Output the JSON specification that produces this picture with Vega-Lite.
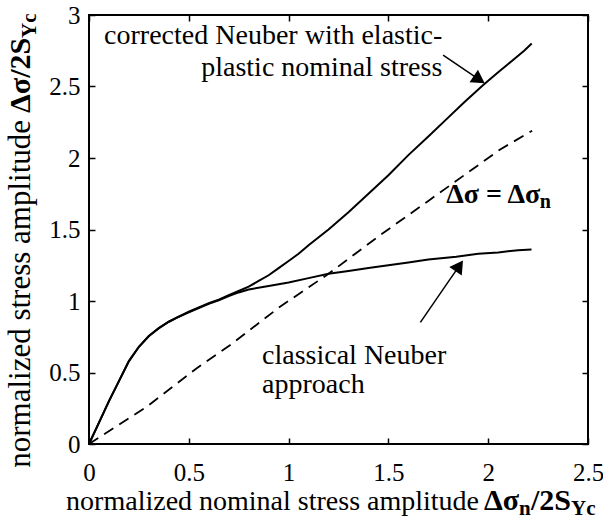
{
  "$schema": "https://vega.github.io/schema/vega-lite/v6.json",
  "width": 499,
  "height": 429,
  "autosize": "none",
  "padding": {"left": 89, "top": 15, "right": 15, "bottom": 76},
  "background": "white",
  "config": {
    "view": {"stroke": "black", "strokeWidth": 2},
    "axis": {
      "grid": false,
      "domain": false,
      "tickColor": "black",
      "tickWidth": 1.5,
      "tickSize": -6,
      "labelColor": "black",
      "labelFont": "Liberation Serif",
      "labelFontSize": 25,
      "labelFlush": false,
      "labelOverlap": false,
      "title": null
    },
    "text": {"font": "Liberation Serif", "color": "black"}
  },
  "datasets": {
    "curves": [
      {"series": "corrected", "x": 0, "y": 0},
      {"series": "corrected", "x": 0.05, "y": 0.15},
      {"series": "corrected", "x": 0.1, "y": 0.3},
      {"series": "corrected", "x": 0.15, "y": 0.44},
      {"series": "corrected", "x": 0.2, "y": 0.58},
      {"series": "corrected", "x": 0.25, "y": 0.68},
      {"series": "corrected", "x": 0.3, "y": 0.755},
      {"series": "corrected", "x": 0.35, "y": 0.81},
      {"series": "corrected", "x": 0.4, "y": 0.855},
      {"series": "corrected", "x": 0.45, "y": 0.89},
      {"series": "corrected", "x": 0.5, "y": 0.925},
      {"series": "corrected", "x": 0.55, "y": 0.955},
      {"series": "corrected", "x": 0.6, "y": 0.985},
      {"series": "corrected", "x": 0.65, "y": 1.01},
      {"series": "corrected", "x": 0.7, "y": 1.04},
      {"series": "corrected", "x": 0.75, "y": 1.07},
      {"series": "corrected", "x": 0.8, "y": 1.1},
      {"series": "corrected", "x": 0.85, "y": 1.14},
      {"series": "corrected", "x": 0.9, "y": 1.18},
      {"series": "corrected", "x": 0.95, "y": 1.23},
      {"series": "corrected", "x": 1.0, "y": 1.28},
      {"series": "corrected", "x": 1.05, "y": 1.33},
      {"series": "corrected", "x": 1.1, "y": 1.39},
      {"series": "corrected", "x": 1.2, "y": 1.5},
      {"series": "corrected", "x": 1.3, "y": 1.62},
      {"series": "corrected", "x": 1.4, "y": 1.75},
      {"series": "corrected", "x": 1.5, "y": 1.88},
      {"series": "corrected", "x": 1.6, "y": 2.02},
      {"series": "corrected", "x": 1.7, "y": 2.15},
      {"series": "corrected", "x": 1.79, "y": 2.27},
      {"series": "corrected", "x": 1.88, "y": 2.39},
      {"series": "corrected", "x": 1.975, "y": 2.51},
      {"series": "corrected", "x": 2.05, "y": 2.6},
      {"series": "corrected", "x": 2.12, "y": 2.68},
      {"series": "corrected", "x": 2.18, "y": 2.75},
      {"series": "corrected", "x": 2.218, "y": 2.8},
      {"series": "classical", "x": 0, "y": 0},
      {"series": "classical", "x": 0.05, "y": 0.15},
      {"series": "classical", "x": 0.1, "y": 0.3},
      {"series": "classical", "x": 0.15, "y": 0.44},
      {"series": "classical", "x": 0.2, "y": 0.58},
      {"series": "classical", "x": 0.25, "y": 0.68},
      {"series": "classical", "x": 0.3, "y": 0.755},
      {"series": "classical", "x": 0.35, "y": 0.81},
      {"series": "classical", "x": 0.4, "y": 0.855},
      {"series": "classical", "x": 0.45, "y": 0.89},
      {"series": "classical", "x": 0.5, "y": 0.92},
      {"series": "classical", "x": 0.55, "y": 0.95},
      {"series": "classical", "x": 0.6, "y": 0.98},
      {"series": "classical", "x": 0.65, "y": 1.005},
      {"series": "classical", "x": 0.7, "y": 1.035},
      {"series": "classical", "x": 0.75, "y": 1.06},
      {"series": "classical", "x": 0.8, "y": 1.08},
      {"series": "classical", "x": 0.9, "y": 1.105},
      {"series": "classical", "x": 1.0, "y": 1.13},
      {"series": "classical", "x": 1.1, "y": 1.16},
      {"series": "classical", "x": 1.2, "y": 1.19},
      {"series": "classical", "x": 1.3, "y": 1.21},
      {"series": "classical", "x": 1.4, "y": 1.23},
      {"series": "classical", "x": 1.5, "y": 1.25},
      {"series": "classical", "x": 1.6, "y": 1.27},
      {"series": "classical", "x": 1.7, "y": 1.29},
      {"series": "classical", "x": 1.84, "y": 1.31},
      {"series": "classical", "x": 1.95, "y": 1.33},
      {"series": "classical", "x": 2.05, "y": 1.34},
      {"series": "classical", "x": 2.15, "y": 1.355},
      {"series": "classical", "x": 2.217, "y": 1.36}
    ],
    "dashed": [
      {"x": 0, "y": 0},
      {"x": 0.122, "y": 0.11},
      {"x": 0.289, "y": 0.26},
      {"x": 0.54, "y": 0.53},
      {"x": 0.706, "y": 0.69},
      {"x": 0.957, "y": 0.96},
      {"x": 1.2, "y": 1.19},
      {"x": 1.458, "y": 1.46},
      {"x": 1.7, "y": 1.7},
      {"x": 2.06, "y": 2.06},
      {"x": 2.22, "y": 2.19}
    ]
  },
  "layer": [
    {
      "data": {"name": "curves"},
      "mark": {"type": "line", "color": "black", "strokeWidth": 2},
      "encoding": {
        "x": {"field": "x", "type": "quantitative", "scale": {"domain": [0, 2.5], "nice": false},
              "axis": {"orient": "bottom", "values": [0, 0.5, 1, 1.5, 2, 2.5], "format": "~g", "labelPadding": 22}},
        "y": {"field": "y", "type": "quantitative", "scale": {"domain": [0, 3], "nice": false},
              "axis": {"orient": "left", "values": [0, 0.5, 1, 1.5, 2, 2.5, 3], "format": "~g", "labelPadding": 15}},
        "detail": {"field": "series"}
      }
    },
    {
      "data": {"name": "dashed"},
      "mark": {"type": "line", "color": "black", "strokeWidth": 1.8, "strokeDash": [11, 7]},
      "encoding": {
        "x": {"field": "x", "type": "quantitative", "scale": {"domain": [0, 2.5], "nice": false},
              "axis": {"orient": "top", "values": [0, 0.5, 1, 1.5, 2, 2.5], "labels": false}},
        "y": {"field": "y", "type": "quantitative", "scale": {"domain": [0, 3], "nice": false},
              "axis": {"orient": "right", "values": [0, 0.5, 1, 1.5, 2, 2.5, 3], "labels": false}}
      }
    },
    {
      "data": {"values": [
        {"x": 1.774, "y": 2.72, "x2": 1.955, "y2": 2.548},
        {"x": 1.66, "y": 0.85, "x2": 1.855, "y2": 1.246}
      ]},
      "mark": {"type": "rule", "color": "black", "strokeWidth": 1.5},
      "encoding": {
        "x": {"field": "x", "type": "quantitative", "axis": null},
        "y": {"field": "y", "type": "quantitative", "axis": null},
        "x2": {"field": "x2"},
        "y2": {"field": "y2"}
      }
    },
    {
      "data": {"values": [{"x": 1.955, "y": 2.548}]},
      "mark": {"type": "point", "shape": "triangle-up", "filled": true, "color": "black", "opacity": 1, "size": 230, "angle": 123.7},
      "encoding": {
        "x": {"field": "x", "type": "quantitative", "axis": null},
        "y": {"field": "y", "type": "quantitative", "axis": null}
      }
    },
    {
      "data": {"values": [{"x": 1.855, "y": 1.246}]},
      "mark": {"type": "point", "shape": "triangle-up", "filled": true, "color": "black", "opacity": 1, "size": 230, "angle": 34.5},
      "encoding": {
        "x": {"field": "x", "type": "quantitative", "axis": null},
        "y": {"field": "y", "type": "quantitative", "axis": null}
      }
    },
    {
      "data": {"values": [
        {"x": 1.77, "y": 2.8, "label": "corrected Neuber with elastic-"},
        {"x": 1.77, "y": 2.57, "label": "plastic nominal stress"},
        {"x": 1.954, "y": -0.462, "label": "normalized nominal stress amplitude"}
      ]},
      "mark": {"type": "text", "align": "right", "baseline": "alphabetic", "fontSize": 28},
      "encoding": {
        "x": {"field": "x", "type": "quantitative", "axis": null},
        "y": {"field": "y", "type": "quantitative", "axis": null},
        "text": {"field": "label"}
      }
    },
    {
      "data": {"values": [
        {"x": 0.867, "y": 0.56, "label": "classical Neuber"},
        {"x": 0.867, "y": 0.36, "label": "approach"}
      ]},
      "mark": {"type": "text", "align": "left", "baseline": "alphabetic", "fontSize": 28},
      "encoding": {
        "x": {"field": "x", "type": "quantitative", "axis": null},
        "y": {"field": "y", "type": "quantitative", "axis": null},
        "text": {"field": "label"}
      }
    },
    {
      "data": {"values": [
        {"x": 1.79, "y": 1.685, "label": "Δσ = Δσ"}
      ]},
      "mark": {"type": "text", "align": "left", "baseline": "alphabetic", "fontSize": 28, "fontWeight": "bold"},
      "encoding": {
        "x": {"field": "x", "type": "quantitative", "axis": null},
        "y": {"field": "y", "type": "quantitative", "axis": null},
        "text": {"field": "label"}
      }
    },
    {
      "data": {"values": [
        {"x": 2.258, "y": 1.65, "label": "n"}
      ]},
      "mark": {"type": "text", "align": "left", "baseline": "alphabetic", "fontSize": 20, "fontWeight": "bold"},
      "encoding": {
        "x": {"field": "x", "type": "quantitative", "axis": null},
        "y": {"field": "y", "type": "quantitative", "axis": null},
        "text": {"field": "label"}
      }
    },
    {
      "data": {"values": [
        {"x": 1.979, "y": -0.462, "label": "Δσ"},
        {"x": 2.214, "y": -0.462, "label": "/2S"}
      ]},
      "mark": {"type": "text", "align": "left", "baseline": "alphabetic", "fontSize": 30, "fontWeight": "bold"},
      "encoding": {
        "x": {"field": "x", "type": "quantitative", "axis": null},
        "y": {"field": "y", "type": "quantitative", "axis": null},
        "text": {"field": "label"}
      }
    },
    {
      "data": {"values": [
        {"x": 2.154, "y": -0.497, "label": "n"},
        {"x": 2.415, "y": -0.497, "label": "Yc"}
      ]},
      "mark": {"type": "text", "align": "left", "baseline": "alphabetic", "fontSize": 21, "fontWeight": "bold"},
      "encoding": {
        "x": {"field": "x", "type": "quantitative", "axis": null},
        "y": {"field": "y", "type": "quantitative", "axis": null},
        "text": {"field": "label"}
      }
    },
    {
      "data": {"values": [
        {"x": -0.295, "y": 2.266, "label": "normalized stress amplitude"}
      ]},
      "mark": {"type": "text", "align": "right", "baseline": "alphabetic", "fontSize": 31, "angle": 270},
      "encoding": {
        "x": {"field": "x", "type": "quantitative", "axis": null},
        "y": {"field": "y", "type": "quantitative", "axis": null},
        "text": {"field": "label"}
      }
    },
    {
      "data": {"values": [
        {"x": -0.295, "y": 2.315, "label": "Δσ/2S"}
      ]},
      "mark": {"type": "text", "align": "left", "baseline": "alphabetic", "fontSize": 30, "fontWeight": "bold", "angle": 270},
      "encoding": {
        "x": {"field": "x", "type": "quantitative", "axis": null},
        "y": {"field": "y", "type": "quantitative", "axis": null},
        "text": {"field": "label"}
      }
    },
    {
      "data": {"values": [
        {"x": -0.266, "y": 2.839, "label": "Yc"}
      ]},
      "mark": {"type": "text", "align": "left", "baseline": "alphabetic", "fontSize": 21, "fontWeight": "bold", "angle": 270},
      "encoding": {
        "x": {"field": "x", "type": "quantitative", "axis": null},
        "y": {"field": "y", "type": "quantitative", "axis": null},
        "text": {"field": "label"}
      }
    }
  ],
  "resolve": {"axis": {"x": "independent", "y": "independent"}}
}
